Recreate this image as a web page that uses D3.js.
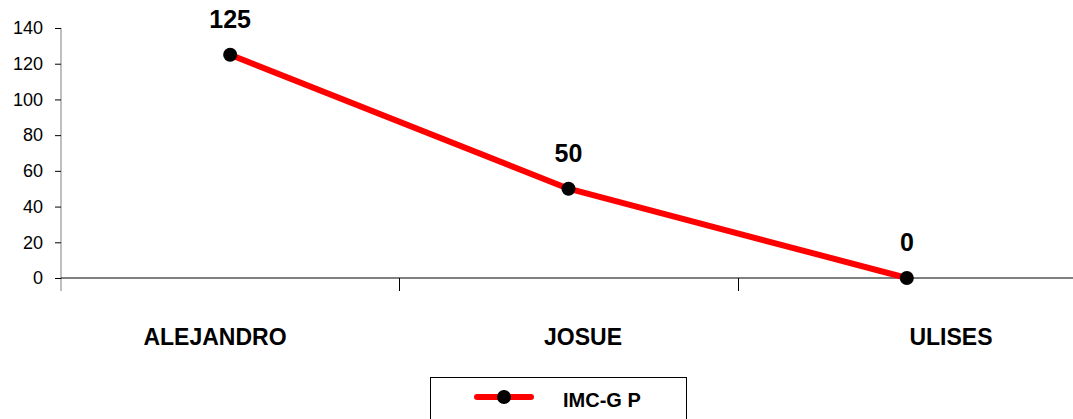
<!DOCTYPE html>
<html>
<head>
<meta charset="utf-8">
<script src="https://cdn.jsdelivr.net/npm/d3@7"></script>
<style>
  html, body { margin: 0; padding: 0; background: #fff; }
  svg { display: block; font-family: "Liberation Sans", Arial, sans-serif; }
</style>
</head>
<body>
<svg id="chart" width="1073" height="419"></svg>
<script>
const categories = ["ALEJANDRO", "JOSUE", "ULISES"];
const values = [125, 50, 0];
const yTicks = [0, 20, 40, 60, 80, 100, 120, 140];
const seriesName = "IMC-G P";

const svg = d3.select("#chart");
const plotLeft = 61, plotRight = 1076, plotTop = 28, plotBottom = 278;

const x = d3.scaleBand().domain(categories).range([plotLeft, plotRight]);
const y = d3.scaleLinear().domain([0, 140]).range([plotBottom, plotTop]);
// category captions sit on their own, slightly wider spread
const xLabel = d3.scalePoint().domain(categories).range([215, 951]);

// Y axis
const yAxis = svg.append("g")
  .attr("transform", `translate(${plotLeft},0)`)
  .call(d3.axisLeft(y).tickValues(yTicks).tickSize(6).tickPadding(12));
yAxis.select(".domain").attr("stroke", "#808080").attr("d", `M0,${plotTop}V${plotBottom + 13}`);
yAxis.selectAll(".tick line").attr("stroke", "#000");
yAxis.selectAll(".tick text").attr("font-size", 18).attr("fill", "#000")
  .attr("font-family", "'Liberation Sans', Arial, sans-serif");

// X axis with ticks on band boundaries
svg.append("line")
  .attr("x1", plotLeft).attr("x2", plotRight).attr("y1", plotBottom).attr("y2", plotBottom)
  .attr("stroke", "#000");
categories.forEach((c, i) => {
  if (i === 0) return;
  const xb = Math.round(x(c)) + 0.5;
  svg.append("line").attr("x1", xb).attr("x2", xb)
    .attr("y1", plotBottom).attr("y2", plotBottom + 13).attr("stroke", "#000");
});

svg.selectAll(".cat").data(categories).enter().append("text")
  .attr("x", d => xLabel(d))
  .attr("y", 345)
  .attr("text-anchor", "middle")
  .attr("font-size", 23).attr("font-weight", "bold")
  .text(d => d);

// Series line
const cx = d => x(d) + x.bandwidth() / 2;
const line = d3.line().x((d, i) => cx(categories[i])).y(d => y(d));
svg.append("path").datum(values)
  .attr("d", line)
  .attr("fill", "none").attr("stroke", "#ff0000")
  .attr("stroke-width", 6).attr("stroke-linejoin", "round");

svg.selectAll(".pt").data(values).enter().append("circle")
  .attr("cx", (d, i) => cx(categories[i]))
  .attr("cy", d => y(d))
  .attr("r", 7).attr("fill", "#000");

svg.selectAll(".val").data(values).enter().append("text")
  .attr("x", (d, i) => cx(categories[i]))
  .attr("y", d => y(d) - 27)
  .attr("text-anchor", "middle")
  .attr("font-size", 25).attr("font-weight", "bold")
  .text(d => d);

// Legend
const lg = svg.append("g");
lg.append("rect").attr("x", 430.5).attr("y", 377.5).attr("width", 256).attr("height", 50)
  .attr("fill", "#fff").attr("stroke", "#000");
lg.append("line").attr("x1", 477).attr("x2", 531).attr("y1", 397).attr("y2", 397)
  .attr("stroke", "#ff0000").attr("stroke-width", 6).attr("stroke-linecap", "round");
lg.append("circle").attr("cx", 504).attr("cy", 397).attr("r", 7).attr("fill", "#000");
lg.append("text").attr("x", 563).attr("y", 407)
  .attr("font-size", 20).attr("font-weight", "bold").text(seriesName);
</script>
</body>
</html>
